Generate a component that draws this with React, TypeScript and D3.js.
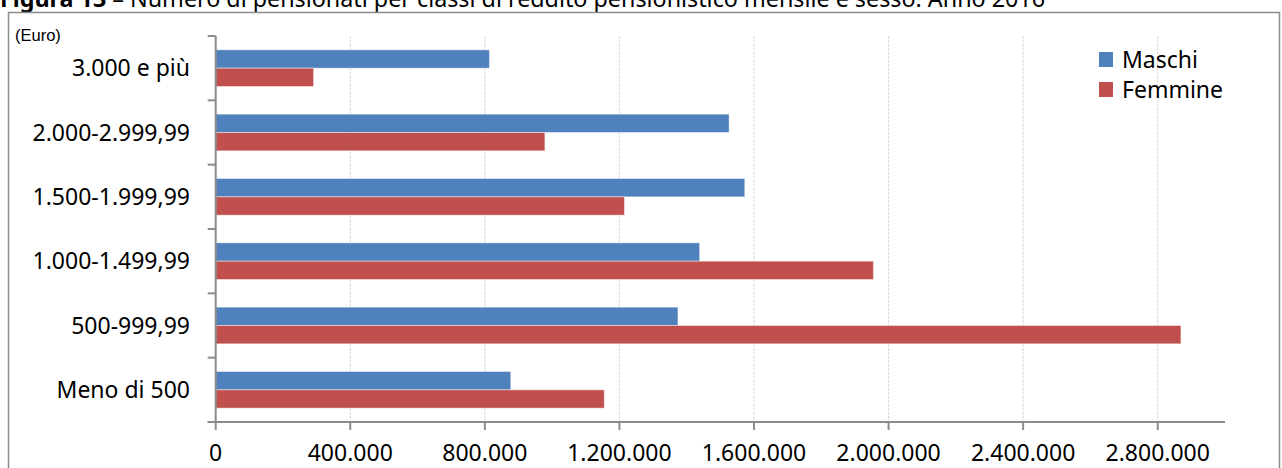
import React from "react";
import * as d3 from "d3";

const categories = [
  "3.000 e più",
  "2.000-2.999,99",
  "1.500-1.999,99",
  "1.000-1.499,99",
  "500-999,99",
  "Meno di 500",
];
const seriesNames = ["Maschi", "Femmine"];
const maschi = [813700, 1526000, 1572600, 1438500, 1374000, 877000];
const femmine = [291000, 978500, 1215000, 1955000, 2869000, 1155000];
const xTicks = [0, 400000, 800000, 1200000, 1600000, 2000000, 2400000, 2800000];
const colors = ["#4F81BD", "#C0504D"];

const W = 1282;
const H = 468;
const FONT = "'Noto Sans', 'Open Sans', sans-serif";

const fmt = (v: number) =>
  v === 0 ? "0" : d3.format(",")(v).replace(/,/g, ".");

export default function App() {
  const x = d3.scaleLinear().domain([0, 3000000]).range([215.7, 1225]);
  const y0 = d3
    .scaleBand<string>()
    .domain(categories)
    .range([36, 422])
    .paddingInner(0.43)
    .paddingOuter(0.215);
  const y1 = d3
    .scaleBand<string>()
    .domain(seriesNames)
    .range([0, y0.bandwidth()]);
  const values = [maschi, femmine];
  const step = y0.step();
  const boundaries = d3.range(categories.length + 1).map((i) => 36 + i * step);
  const axisColor = "#8c8c8c";

  return (
    <svg
      width={W}
      height={H}
      style={{ position: "absolute", left: 0, top: 0, display: "block", background: "#fff" }}
    >
      {/* Title (clipped at top) */}
      <text x={0} y={7} fontFamily={FONT} fontSize={23.3} fill="#000">
        <tspan fontWeight="bold">Figura 13</tspan>
        <tspan> – Numero di pensionati per classi di reddito pensionistico mensile e sesso. Anno 2016</tspan>
      </text>
      {/* Frame */}
      <rect x={8.5} y={12.5} width={1271} height={470} fill="#fff" stroke="#8c8c8c" strokeWidth={1.5} />
      {/* (Euro) */}
      <text
        x={15}
        y={41}
        fontFamily="'Liberation Sans Narrow', 'Liberation Sans', sans-serif"
        fontSize={16.5}
        fill="#000"
      >
        (Euro)
      </text>
      {/* Gridlines */}
      {xTicks.slice(1).map((t) => (
        <line
          key={"g" + t}
          x1={x(t)}
          x2={x(t)}
          y1={36}
          y2={422}
          stroke="#d9d9d9"
          strokeWidth={1}
          strokeDasharray="3,1"
        />
      ))}
      {/* Bars */}
      {categories.map((c, i) => (
        <g key={c} transform={`translate(0,${y0(c)})`}>
          {seriesNames.map((s, j) => (
            <rect
              key={s}
              x={x(0)}
              y={y1(s)}
              width={x(values[j][i]) - x(0)}
              height={y1.bandwidth()}
              fill={colors[j]}
              stroke="rgba(255,255,255,0.45)"
              strokeWidth={1}
            />
          ))}
        </g>
      ))}
      {/* Category axis */}
      <line x1={x(0)} x2={x(0)} y1={36} y2={422} stroke={axisColor} strokeWidth={2} />
      {boundaries.map((b, i) => (
        <line key={"yt" + i} x1={x(0) - 8} x2={x(0)} y1={b} y2={b} stroke={axisColor} strokeWidth={2} />
      ))}
      {categories.map((c) => (
        <text
          key={"yl" + c}
          x={190}
          y={(y0(c) as number) + y0.bandwidth() / 2}
          dy="0.36em"
          textAnchor="end"
          fontFamily={FONT}
          fontSize={23}
          fill="#000"
        >
          {c}
        </text>
      ))}
      {/* Value axis */}
      <line x1={x(0) - 8} x2={1225} y1={422} y2={422} stroke={axisColor} strokeWidth={2} />
      {xTicks.map((t) => (
        <g key={"xt" + t}>
          <line x1={x(t)} x2={x(t)} y1={422} y2={430} stroke={axisColor} strokeWidth={2} />
          <text
            x={x(t)}
            y={461}
            textAnchor="middle"
            fontFamily={FONT}
            fontSize={23}
            fill="#000"
          >
            {fmt(t)}
          </text>
        </g>
      ))}
      {/* Legend */}
      {seriesNames.map((s, j) => (
        <g key={"lg" + s} transform={`translate(1099,${52 + j * 30})`}>
          <rect x={0} y={0} width={14} height={15} fill={colors[j]} />
          <text x={23} y={7.5} dy="0.36em" fontFamily={FONT} fontSize={23} fill="#000">
            {s}
          </text>
        </g>
      ))}
    </svg>
  );
}
